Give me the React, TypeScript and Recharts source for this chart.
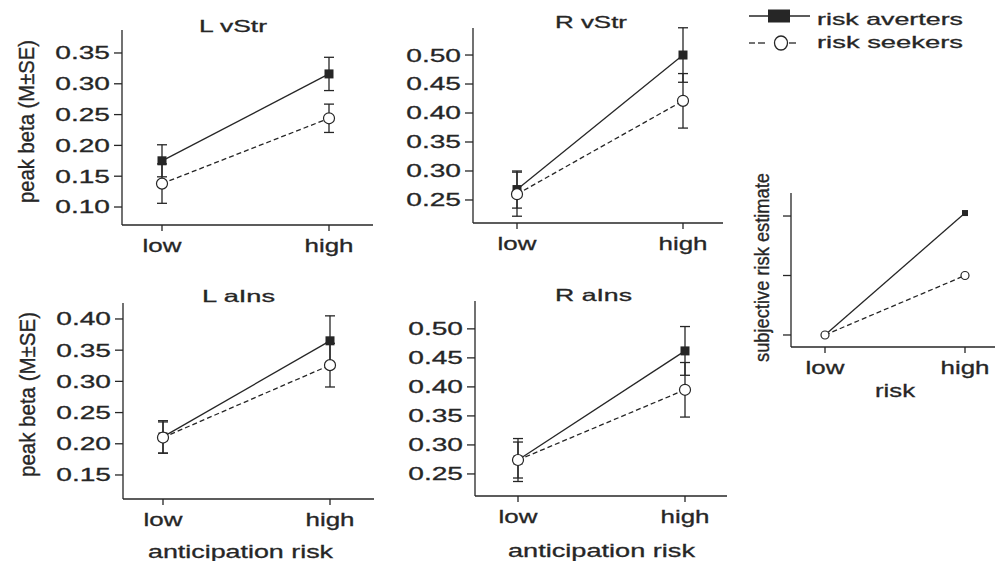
import { LineChart, Line, XAxis, YAxis, ErrorBar } from "recharts";

const INK = "#262626";
const FONT = "'Liberation Sans', Arial, sans-serif";

const riskLevels = ["low", "high"];

// L vStr
const lVStrAverters = [0.175, 0.316];
const lVStrAvertersSe = [0.026, 0.027];
const lVStrSeekers = [0.138, 0.244];
const lVStrSeekersSe = [0.032, 0.023];
const lVStrTicks = [0.1, 0.15, 0.2, 0.25, 0.3, 0.35];

// R vStr
const rVStrAverters = [0.268, 0.5];
const rVStrAvertersSe = [0.032, 0.047];
const rVStrSeekers = [0.26, 0.421];
const rVStrSeekersSe = [0.038, 0.047];
const rVStrTicks = [0.25, 0.3, 0.35, 0.4, 0.45, 0.5];

// L aIns
const lAInsAverters = [0.211, 0.365];
const lAInsAvertersSe = [0.026, 0.04];
const lAInsSeekers = [0.21, 0.326];
const lAInsSeekersSe = [0.025, 0.035];
const lAInsTicks = [0.15, 0.2, 0.25, 0.3, 0.35, 0.4];

// R aIns
const rAInsAverters = [0.274, 0.462];
const rAInsAvertersSe = [0.037, 0.042];
const rAInsSeekers = [0.274, 0.395];
const rAInsSeekersSe = [0.031, 0.047];
const rAInsTicks = [0.25, 0.3, 0.35, 0.4, 0.45, 0.5];

// subjective risk estimate
const subjAverters = [1, 3.05];
const subjSeekers = [1, 2.0];
const subjTicks = [1, 2, 3];

function makeRows(a: number[], s: number[], aSe?: number[], sSe?: number[]) {
  return riskLevels.map((risk, i) => ({
    risk,
    averters: a[i],
    seekers: s[i],
    avertersSe: aSe ? aSe[i] : 0,
    seekersSe: sSe ? sSe[i] : 0,
  }));
}

const Y_W = 70;
const M_TOP = 6;
const X_H = 44;
const M_RIGHT = 4;

const XTick = (p: any) => (
  <text
    x={0}
    y={0}
    transform={`translate(${p.x},${p.y}) scale(1.4,1)`}
    textAnchor="middle"
    dy="0.71em"
    fontSize={18.5}
    fill={INK}
    stroke={INK}
    strokeWidth={0.3}
    fontFamily={FONT}
  >
    {p.payload.value}
  </text>
);

const YTick = (p: any) => (
  <text
    x={0}
    y={0}
    transform={`translate(${p.x},${p.y}) scale(1.52,1)`}
    textAnchor="end"
    dy="0.35em"
    fontSize={18.5}
    fill={INK}
    stroke={INK}
    strokeWidth={0.3}
    fontFamily={FONT}
  >
    {Number(p.payload.value).toFixed(2)}
  </text>
);

// tick marks only, no labels (subjective risk panel)
const NoTick = (p: any) => <g key={p.index} />;

const squareDot = (size: number) => (p: any) => {
  if (p.cx == null || p.cy == null) return <g key={p.index} />;
  return (
    <rect key={p.index} x={p.cx - size / 2} y={p.cy - size / 2} width={size} height={size} fill={INK} />
  );
};

const circleDot = (r: number) => (p: any) => {
  if (p.cx == null || p.cy == null) return <g key={p.index} />;
  return <circle key={p.index} cx={p.cx} cy={p.cy} r={r} fill="#fff" stroke={INK} strokeWidth={1.2} />;
};

type Box = { left: number; top: number; bottom: number; right: number };

function Panel({
  box,
  pad,
  domain,
  ticks,
  data,
  small = false,
  errors = true,
  labels = true,
}: {
  box: Box;
  pad: [number, number];
  domain: [number, number];
  ticks: number[];
  data: any[];
  small?: boolean;
  errors?: boolean;
  labels?: boolean;
}) {
  const w = box.right - box.left + Y_W + M_RIGHT;
  const h = box.bottom - box.top + M_TOP + X_H;
  return (
    <div style={{ position: "absolute", left: box.left - Y_W, top: box.top - M_TOP }}>
      <LineChart width={w} height={h} data={data} margin={{ top: M_TOP, right: M_RIGHT, left: 0, bottom: 0 }}>
        <XAxis
          dataKey="risk"
          padding={{ left: pad[0], right: pad[1] }}
          height={X_H}
          tickSize={6}
          tickMargin={8}
          interval={0}
          axisLine={{ stroke: INK, strokeWidth: 1.3 }}
          tickLine={{ stroke: INK, strokeWidth: 1.3 }}
          tick={<XTick />}
        />
        <YAxis
          type="number"
          width={Y_W}
          domain={domain}
          ticks={ticks}
          allowDataOverflow
          tickSize={8}
          tickMargin={4}
          axisLine={{ stroke: INK, strokeWidth: 1.3 }}
          tickLine={{ stroke: INK, strokeWidth: 1.3 }}
          tick={labels ? <YTick /> : <NoTick />}
        />
        <Line
          dataKey="averters"
          stroke={INK}
          strokeWidth={1.3}
          dot={squareDot(small ? 6 : 9)}
          activeDot={false}
          isAnimationActive={false}
        >
          {errors && <ErrorBar dataKey="avertersSe" width={5} stroke={INK} strokeWidth={1.3} direction="y" />}
        </Line>
        <Line
          dataKey="seekers"
          stroke={INK}
          strokeWidth={1.3}
          strokeDasharray="5 3"
          dot={circleDot(small ? 4 : 5.5)}
          activeDot={false}
          isAnimationActive={false}
        >
          {errors && <ErrorBar dataKey="seekersSe" width={5} stroke={INK} strokeWidth={1.3} direction="y" />}
        </Line>
      </LineChart>
    </div>
  );
}

const textProps = {
  fill: INK,
  stroke: INK,
  strokeWidth: 0.3,
  fontFamily: FONT,
  lengthAdjust: "spacingAndGlyphs" as const,
};

export default function App() {
  return (
    <div
      style={{
        position: "absolute",
        left: 0,
        top: 0,
        width: 995,
        height: 561,
        overflow: "hidden",
        background: "#fff",
      }}
    >
      <Panel
        box={{ left: 122, top: 30, bottom: 225, right: 373 }}
        pad={[40, 44]}
        domain={[0.0708, 0.3873]}
        ticks={lVStrTicks}
        data={makeRows(lVStrAverters, lVStrSeekers, lVStrAvertersSe, lVStrSeekersSe)}
      />
      <Panel
        box={{ left: 473, top: 28, bottom: 223, right: 723 }}
        pad={[44, 40]}
        domain={[0.2103, 0.5466]}
        ticks={rVStrTicks}
        data={makeRows(rVStrAverters, rVStrSeekers, rVStrAvertersSe, rVStrSeekersSe)}
      />
      <Panel
        box={{ left: 123, top: 303, bottom: 499, right: 374 }}
        pad={[40, 44]}
        domain={[0.1115, 0.4256]}
        ticks={lAInsTicks}
        data={makeRows(lAInsAverters, lAInsSeekers, lAInsAvertersSe, lAInsSeekersSe)}
      />
      <Panel
        box={{ left: 475, top: 301, bottom: 496, right: 727 }}
        pad={[43, 42]}
        domain={[0.212, 0.548]}
        ticks={rAInsTicks}
        data={makeRows(rAInsAverters, rAInsSeekers, rAInsAvertersSe, rAInsSeekersSe)}
      />
      <Panel
        box={{ left: 791, top: 193, bottom: 347, right: 995 }}
        pad={[34, 30]}
        domain={[0.798, 3.387]}
        ticks={subjTicks}
        data={makeRows(subjAverters, subjSeekers)}
        small
        errors={false}
        labels={false}
      />

      <svg width={995} height={561} style={{ position: "absolute", left: 0, top: 0, pointerEvents: "none" }}>
        {/* panel titles */}
        <text x={199} y={32} fontSize={16.5} textLength={68} {...textProps}>L vStr</text>
        <text x={555} y={28} fontSize={16.5} textLength={72} {...textProps}>R vStr</text>
        <text x={202} y={302} fontSize={16.5} textLength={73} {...textProps}>L aIns</text>
        <text x={555} y={301} fontSize={16.5} textLength={77} {...textProps}>R aIns</text>

        {/* y axis labels */}
        <text transform="translate(34,203) scale(1.2,1) rotate(-90)" fontSize={19} textLength={163} {...textProps}>
          peak beta (M±SE)
        </text>
        <text transform="translate(35,477) scale(1.2,1) rotate(-90)" fontSize={19} textLength={165} {...textProps}>
          peak beta (M±SE)
        </text>
        <text transform="translate(769,362) scale(1.15,1) rotate(-90)" fontSize={18} textLength={189} {...textProps}>
          subjective risk estimate
        </text>

        {/* x axis labels */}
        <text x={148} y={558} fontSize={18.6} textLength={185} {...textProps}>anticipation risk</text>
        <text x={508} y={557} fontSize={18.6} textLength={187} {...textProps}>anticipation risk</text>
        <text x={875} y={397} fontSize={18.6} textLength={40} {...textProps}>risk</text>

        {/* legend */}
        <line x1={749} y1={16} x2={810} y2={16} stroke={INK} strokeWidth={1.3} />
        <rect x={768} y={9.5} width={22} height={13} fill={INK} />
        <text x={817} y={25} fontSize={17} textLength={146} {...textProps}>risk averters</text>
        <line x1={749} y1={43} x2={755} y2={43} stroke={INK} strokeWidth={1.3} />
        <line x1={758} y1={43} x2={765} y2={43} stroke={INK} strokeWidth={1.3} />
        <line x1={789} y1={43} x2={796} y2={43} stroke={INK} strokeWidth={1.3} />
        <ellipse cx={781} cy={43} rx={6.5} ry={7} fill="#fff" stroke={INK} strokeWidth={1.3} />
        <text x={817} y={48} fontSize={17} textLength={146} {...textProps}>risk seekers</text>
      </svg>
    </div>
  );
}
